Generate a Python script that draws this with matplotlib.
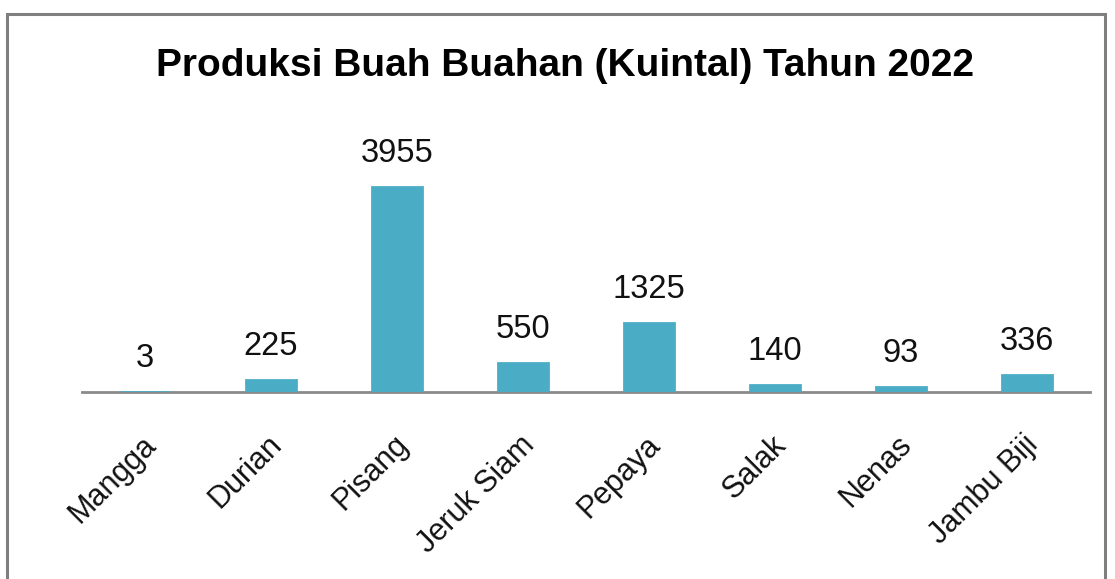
import matplotlib
matplotlib.use("Agg")
import matplotlib.pyplot as plt
from matplotlib.patches import Rectangle
from matplotlib.transforms import ScaledTranslation

categories = ["Mangga", "Durian", "Pisang", "Jeruk Siam", "Pepaya", "Salak", "Nenas", "Jambu Biji"]
values = [3, 225, 3955, 550, 1325, 140, 93, 336]
title = "Produksi Buah Buahan (Kuintal) Tahun 2022"

plt.rcParams['font.family'] = ['Liberation Sans', 'DejaVu Sans']

W, H = 1115, 579
fig = plt.figure(figsize=(W / 100, H / 100), dpi=100)
fig.patch.set_facecolor("white")

# frame border
fig.patches.append(Rectangle((7 / W, -0.05), (1105 - 7) / W, 1.05 - 14 / H,
                             transform=fig.transFigure, fill=False,
                             edgecolor="#7f7f7f", linewidth=2.2))

ax_left, ax_right = 82, 1090
ax_top, ax_bottom = 120, 392
ax = fig.add_axes([ax_left / W, 1 - ax_bottom / H, (ax_right - ax_left) / W, (ax_bottom - ax_top) / H])

x = list(range(len(categories)))
ax.bar(x, values, width=0.4, color="#4BACC6", edgecolor="#4BACC6", linewidth=2, zorder=3)
ax.set_xlim(-0.5, len(categories) - 0.5)
ax.set_ylim(0, 3955 * (ax_bottom - ax_top) / (392 - 187))

for xi, v in zip(x, values):
    ax.annotate(str(v), (xi, v), xytext=(0, 13), textcoords="offset points",
                ha="center", va="bottom", fontsize=23.5, color="#111111")

for s in ["top", "right", "left"]:
    ax.spines[s].set_visible(False)
ax.spines["bottom"].set_color("#8a8a8a")
ax.spines["bottom"].set_linewidth(2)
ax.spines["bottom"].set_zorder(2)
ax.set_yticks([])
ax.set_xticks(x)
ax.set_xticklabels(categories, rotation=45, ha="right", va="top",
                   rotation_mode="anchor", fontsize=22, color="#111111")
ax.tick_params(axis="x", length=0, pad=27)
shift = ScaledTranslation(-4 / 100, 0, fig.dpi_scale_trans)
for lbl in ax.get_xticklabels():
    lbl.set_transform(lbl.get_transform() + shift)

fig.text(565 / W, 1 - 66 / H, title, ha="center", va="center",
         fontsize=28, fontweight="bold", color="#000000")

fig.savefig("out.png", dpi=100, facecolor="white")
